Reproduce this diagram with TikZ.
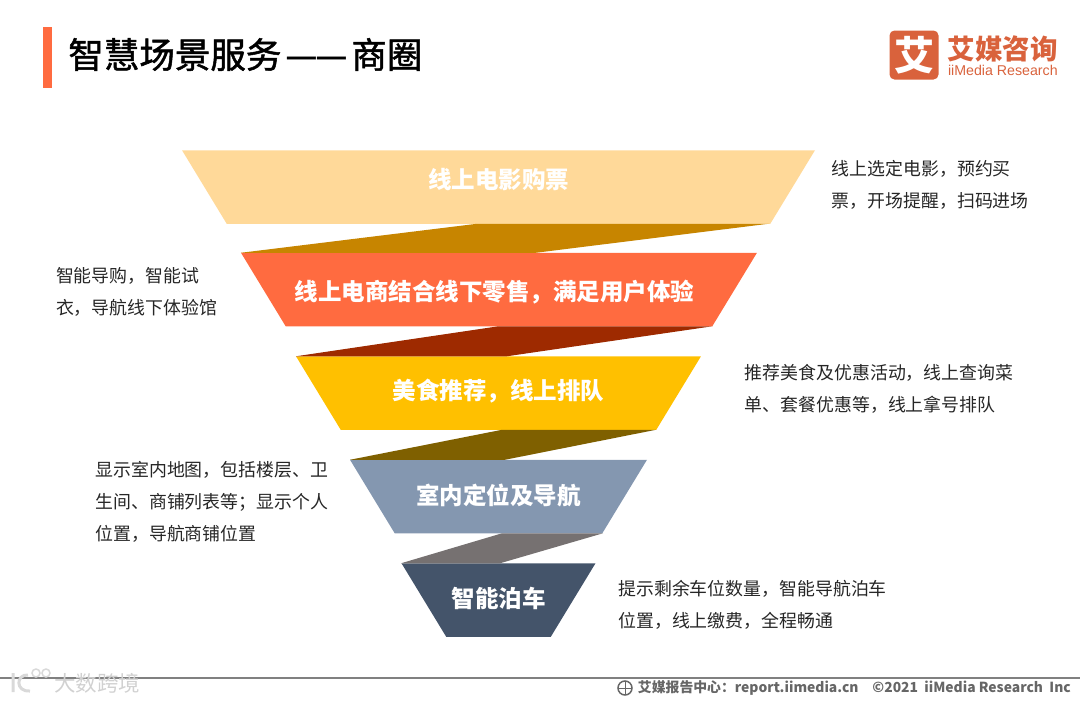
\documentclass[tikz,border=0pt]{standalone}
\usepackage{xcolor}
\usepackage{fontspec}
\setmainfont{Noto Sans CJK SC}
\newfontfamily\latinfont{Liberation Sans}
\newfontface\titlefont[FakeBold=1.4]{Noto Sans CJK SC}
\usetikzlibrary{shapes.geometric, positioning, calc}
\definecolor{barorange}{HTML}{FF6B40}
\definecolor{logored}{HTML}{D9623C}
\definecolor{sand}{HTML}{FFD999}
\definecolor{amber}{HTML}{FFC000}
\definecolor{steel}{HTML}{8497B0}
\definecolor{slate}{HTML}{44546A}
\definecolor{ochre}{HTML}{C78500}
\definecolor{rust}{HTML}{9E2A00}
\definecolor{olive}{HTML}{7F6000}
\definecolor{ash}{HTML}{767171}
\tikzset{
  %% Funnel layer
  flayer/.style={
    trapezium, shape border rotate=180,
    trapezium angle=58.7, trapezium stretches body,
    fill=#1, inner xsep=0pt, inner ysep=24.75pt, outer sep=0pt,
    text height=20.7pt, text depth=3.3pt,
    minimum height=73.5pt, text=white,
    font=\fontsize{23.5}{23.5}\selectfont\bfseries
  },
  %% Ribbon between layers
  twist/.style={fill=#1, draw=none},
  %% Side text
  desc/.style={
    align=left, inner sep=0pt, text=black!85,
    font=\fontsize{17.9}{32}\selectfont
  },
}

\begin{document}
\begin{tikzpicture}[x=1pt, y=-1pt]
  \useasboundingbox (0,0) rectangle (1080,702);

  %% Title
  \node[fill=barorange, minimum width=9pt, minimum height=61pt, inner sep=0pt]
       (bar) at (47.5,57.5) {};
  \node[right=16pt of bar, yshift=3pt, inner sep=0pt, font=\titlefont\fontsize{35.5}{35.5}\selectfont]
       (title) {智慧场景服务\hspace{5pt}\makebox[30pt]{\bfseries —}\makebox[30pt]{\bfseries —}\hspace{5pt}商圈};

  %% Logo
  \node[fill=logored, rounded corners=5pt, minimum width=49pt, minimum height=49pt,
        inner sep=0pt, text=white, font=\fontsize{40}{40}\selectfont\bfseries]
       (logo) at (914,55) {艾};
  \node[right=9pt of logo, yshift=5pt, inner sep=0pt, text=logored,
        text height=20pt, text depth=1pt,
        font=\fontsize{27.5}{27.5}\selectfont\bfseries] (logocn) {艾媒咨询};
  \node[below=4pt of logocn, inner sep=0pt, text=logored,
        text height=10.5pt, text depth=0.5pt,
        font=\latinfont\fontsize{14.2}{14.2}\selectfont] (logoen) {iiMedia Research};

  %% Funnel
  \node[flayer=sand, minimum width=633pt]
       (film) at (498.5,187) {\raisebox{7pt}{线上电影购票}};
  \node[flayer=barorange, minimum width=516pt, below=29pt of film, xshift=0.5pt]
       (mall) {\raisebox{-2pt}{线上电商结合线下零售，满足用户体验}\hspace*{9pt}};
  \node[flayer=amber, minimum width=405pt, below=30pt of mall, xshift=-0.5pt]
       (food) {\raisebox{2pt}{美食推荐，线上排队}};
  \node[flayer=steel, minimum width=297pt, below=30pt of food]
       (indoor) {\raisebox{1pt}{室内定位及导航}};
  \node[flayer=slate, minimum width=194pt, below=30pt of indoor]
       (park) {\raisebox{1pt}{智能泊车}};

  %% Ribbons
  \fill[twist=ochre]
       ([xshift=-21.5pt]film.south) -- ([xshift=270pt]film.south)
       -- ([xshift=37pt]mall.north) -- ([xshift=-258pt]mall.north) -- cycle;
  \fill[twist=rust]
       ([xshift=-0.5pt]mall.south) -- ([xshift=213.5pt]mall.south)
       -- ([xshift=8.5pt]food.north) -- ([xshift=-202.5pt]food.north) -- cycle;
  \fill[twist=olive]
       ([xshift=3.5pt]food.south) -- ([xshift=157.5pt]food.south)
       -- ([xshift=6.5pt]indoor.north) -- ([xshift=-148.5pt]indoor.north) -- cycle;
  \fill[twist=ash]
       ([xshift=3.5pt]indoor.south) -- ([xshift=104.5pt]indoor.south)
       -- ([xshift=1.5pt]park.north) -- ([xshift=-97.5pt]park.north) -- cycle;

  %% Side text
  \node[desc, right=39pt of film, yshift=2pt] (filmtxt)
       {线上选定电影，预约买\\票，开场提醒，扫码进场};
  \node[desc, left=46pt of mall, yshift=-2pt] (malltxt)
       {智能导购，智能试\\衣，导航线下体验馆};
  \node[desc, right=66pt of food, yshift=4.5pt] (foodtxt)
       {推荐美食及优惠活动，线上查询菜\\单、套餐优惠等，线上拿号排队};
  \node[desc, left=44pt of indoor, yshift=-5.5pt] (indoortxt)
       {显示室内地图，包括楼层、卫\\生间、商铺列表等；显示个人\\位置，导航商铺位置};
  \node[desc, right=45pt of park, yshift=-4.5pt] (parktxt)
       {提示剩余车位数量，智能导航泊车\\位置，线上缴费，全程畅通};

  %% Footer
  \coordinate (footl) at (0,678);
  \coordinate (footr) at (1080,678);
  \draw[black!50, line width=2pt] (footl) -- (footr);
  \node[anchor=west, inner sep=0pt, text=black!18, font=\fontsize{21.5}{21.5}\selectfont]
       (mark) at (54,683) {大数跨境};
  \node[anchor=east, inner sep=0pt, text=black!60, font=\fontsize{13.85}{13.85}\selectfont\bfseries]
       (foot) at (1071,688) {艾媒报告中心：report.iimedia.cn\quad ©2021\ \ iiMedia Research\ \ Inc};

  %% Icons
  \draw[black!60, line width=1.5pt] (625,688) circle (7pt);
  \draw[black!60, line width=1pt] (618,688) -- (632,688) (625,681) -- (625,695);
  \draw[black!15, line width=3pt] (13,673) -- (13,692)
       (28,675) .. controls (16,674) and (15,692) .. (30,691);
  \draw[black!15, line width=1.5pt] (36,673) circle (4pt) (46,673) circle (4pt);
\end{tikzpicture}
\end{document}
